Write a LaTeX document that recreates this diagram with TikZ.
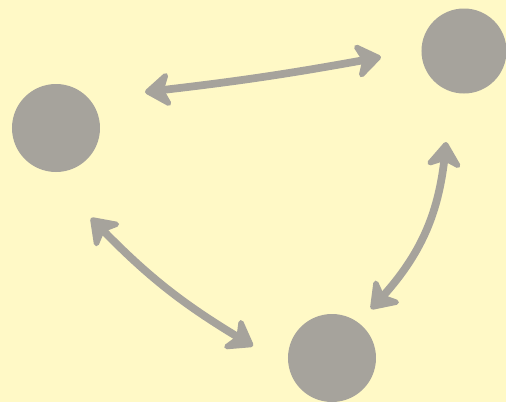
\documentclass[tikz,border=0pt]{standalone}
\usepackage{tikz}
\usetikzlibrary{arrows.meta,bending}
\usepackage{xcolor}
\definecolor{noteyellow}{HTML}{FFF9C6}
\definecolor{dotgray}{HTML}{A6A39C}

\begin{document}
\begin{tikzpicture}[
    dot/.style={circle,fill=dotgray,draw=none,inner sep=0pt,minimum size=#1},
    link/.style={draw=dotgray,line width=4.4pt,line cap=round,
      {Stealth[length=17pt,width=24pt,inset=5pt,round]}-{Stealth[length=17pt,width=24pt,inset=5pt,round]}}
  ]
  \fill[noteyellow] (0,0) rectangle (10.12,8.04);
  \useasboundingbox (0,0) rectangle (10.12,8.04);
  % the three dots
  \node[dot=1.76cm] (left) at (1.12,5.48) {};
  \node[dot=1.70cm] (topright) at (9.28,7.02) {};
  \node[dot=1.76cm] (bottom) at (6.64,0.88) {};
  % arrow ends
  \coordinate (lefttop) at (2.90,6.20);
  \coordinate (topleft) at (7.62,6.90);
  \coordinate (leftlow) at (1.82,3.68);
  \coordinate (bottomleft) at (5.06,1.12);
  \coordinate (topdown) at (8.92,5.20);
  \coordinate (bottomright) at (7.42,1.86);
  % double arrows between them
  \draw[link] (lefttop) to[bend right=2] (topleft);
  \draw[link] (leftlow) to[bend right=8] (bottomleft);
  \draw[link] (topdown) to[bend left=20] (bottomright);
\end{tikzpicture}
\end{document}
